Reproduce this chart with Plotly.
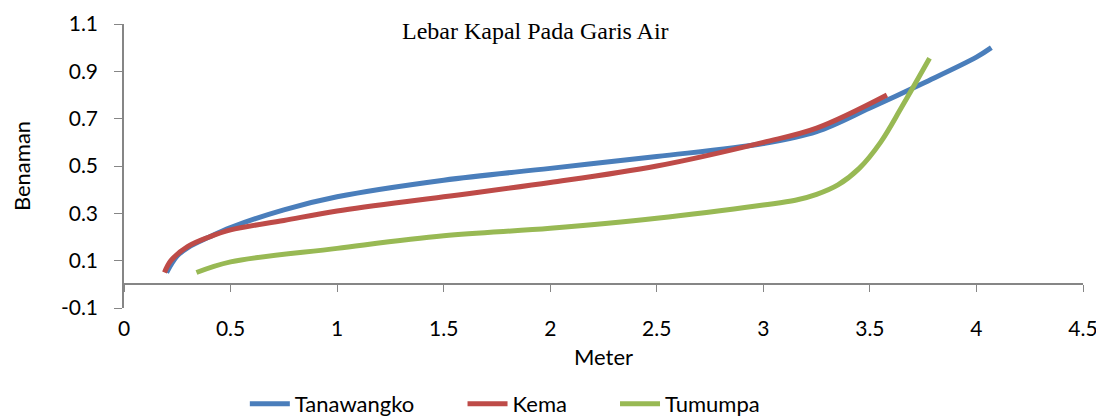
import plotly.graph_objects as go

# data (x = Meter, y = Benaman)
tanawangko_x = [0.20, 0.25, 0.30, 0.40, 0.50, 0.75, 1.00, 1.50, 2.00, 2.50, 3.00, 3.25, 3.50, 3.75, 4.00, 4.07]
tanawangko_y = [0.05, 0.12, 0.155, 0.20, 0.24, 0.315, 0.37, 0.44, 0.49, 0.54, 0.595, 0.645, 0.745, 0.85, 0.96, 1.00]

kema_x = [0.19, 0.22, 0.30, 0.40, 0.50, 0.75, 1.00, 1.50, 2.00, 2.50, 3.00, 3.25, 3.58]
kema_y = [0.05, 0.10, 0.16, 0.20, 0.23, 0.27, 0.31, 0.37, 0.43, 0.50, 0.60, 0.66, 0.80]

tumumpa_x = [0.34, 0.50, 1.00, 1.50, 2.00, 2.50, 3.00, 3.15, 3.25, 3.35, 3.45, 3.55, 3.65, 3.78]
tumumpa_y = [0.05, 0.095, 0.152, 0.205, 0.237, 0.279, 0.335, 0.355, 0.38, 0.42, 0.49, 0.60, 0.75, 0.955]

y_ticks = [-0.1, 0.1, 0.3, 0.5, 0.7, 0.9, 1.1]
y_labels = ["-0.1", "0.1", "0.3", "0.5", "0.7", "0.9", "1.1"]
x_ticks = [0, 0.5, 1, 1.5, 2, 2.5, 3, 3.5, 4, 4.5]
x_labels = ["0", "0.5", "1", "1.5", "2", "2.5", "3", "3.5", "4", "4.5"]

series = [
    ("Tanawangko", tanawangko_x, tanawangko_y, "#4A7EBB", 0.126),
    ("Kema", kema_x, kema_y, "#BE4B48", 0.353),
    ("Tumumpa", tumumpa_x, tumumpa_y, "#98B954", 0.512),
]

font = "Lato, Open Sans, sans-serif"
grey = "#868686"

fig = go.Figure()
legends = {}
for i, (name, xs, ys, col, lx) in enumerate(series):
    key = "legend" if i == 0 else "legend%d" % (i + 1)
    fig.add_trace(go.Scatter(x=xs, y=ys, name=name, mode="lines", legend=key,
                             line=dict(color=col, width=5, shape="spline", smoothing=1.0)))
    legends[key] = dict(orientation="h", x=lx, xanchor="left", y=-0.338, yanchor="middle",
                        font=dict(size=22), itemwidth=40, bgcolor="rgba(0,0,0,0)")

# axis line at y=0 with ticks (labels stay at the bottom)
fig.add_trace(go.Scatter(x=[0], y=[0], xaxis="x2", showlegend=False,
                         mode="markers", marker=dict(opacity=0), hoverinfo="skip"))

# page body has an 8px margin, so the figure is 8px smaller and margins shifted
fig.update_layout(
    width=1096, height=408,
    margin=dict(l=116, r=21, t=16, b=108, autoexpand=False),
    plot_bgcolor="white", paper_bgcolor="white",
    font=dict(family=font, size=21, color="black"),
    xaxis=dict(range=[0, 4.5], tickvals=x_ticks, ticktext=x_labels, showgrid=False,
               zeroline=False, showline=False, ticks="", automargin=False,
               ticklabelstandoff=6,
               title=dict(text="Meter", font=dict(size=22), standoff=10)),
    xaxis2=dict(range=[0, 4.5], tickvals=x_ticks, overlaying="x", anchor="free",
                position=0.1 / 1.2, showline=True, linecolor=grey, linewidth=1.5,
                ticks="outside", ticklen=7, tickcolor=grey, showticklabels=False,
                showgrid=False, zeroline=False, automargin=False),
    yaxis=dict(range=[-0.1, 1.1], tickvals=y_ticks, ticktext=y_labels, showgrid=False,
               zeroline=False, showline=True, linecolor=grey, linewidth=1.5,
               ticks="outside", ticklen=8, tickcolor=grey, automargin=False,
               ticklabelstandoff=12,
               title=dict(text="Benaman", font=dict(size=22), standoff=26)),
    annotations=[dict(text="Lebar Kapal Pada Garis Air", xref="paper", yref="paper",
                      x=0.4286, y=0.975, xanchor="center", yanchor="middle", showarrow=False,
                      font=dict(family="Liberation Serif, Times New Roman, serif", size=24))],
    **legends,
)

fig.write_html("out.html")
